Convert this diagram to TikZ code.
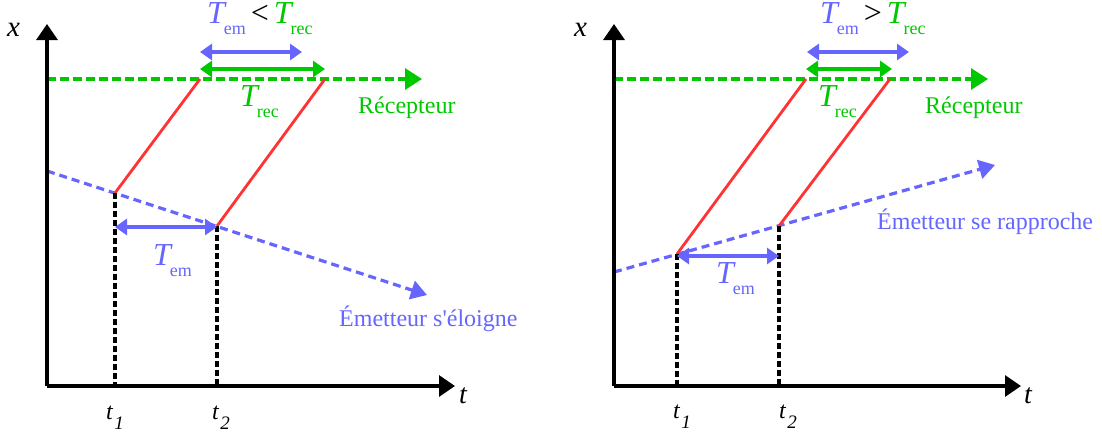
\documentclass[tikz,border=0pt]{standalone}
\usepackage{fontspec}
\setmainfont{Liberation Serif}[Ligatures=TeXOff]
\usepackage{tikz}
\usetikzlibrary{arrows.meta}
\usepackage{xcolor}
\definecolor{emblue}{RGB}{102,102,255}
\definecolor{recgreen}{RGB}{0,200,0}
\definecolor{sigred}{RGB}{255,51,51}
\newcommand{\per}[1]{\textit{T}\kern-3pt\raisebox{-11pt}{\fontsize{18}{18}\selectfont #1}}
\newcommand{\inst}[1]{\textit{t}\kern1pt\raisebox{-10pt}{\fontsize{19}{19}\selectfont\textit{#1}}}

\begin{document}
\begin{tikzpicture}[x=1pt,y=-1pt,
  axis/.style={line width=3.2pt,-{Triangle[length=16pt,width=21pt]}},
  recline/.style={recgreen,line width=3.2pt,dash pattern=on 9pt off 4pt,-{Triangle[length=17pt,width=21pt]}},
  emline/.style={emblue,line width=3.2pt,dash pattern=on 8pt off 5pt,-{Triangle[length=16pt,width=19pt]}},
  ray/.style={sigred,line width=2.8pt},
  drop/.style={line width=3.2pt,dash pattern=on 6pt off 3pt},
  span/.style={line width=3.2pt,{Triangle[length=12pt,width=16pt]}-{Triangle[length=12pt,width=16pt]}},
  lbl/.style={inner sep=0pt,anchor=base west,font=\fontsize{24}{24}\selectfont},
  big/.style={inner sep=0pt,anchor=base west,font=\fontsize{32}{32}\selectfont}]
\useasboundingbox (0,0) rectangle (1102,434);
% left diagram: emitter moving away
\coordinate (o1) at (47,386);
\coordinate (xa1) at (47,24);
\coordinate (ta1) at (455,386);
\coordinate (r1a) at (47,79);
\coordinate (r1b) at (422,79);
\coordinate (e1a) at (47,171);
\coordinate (e1b) at (427,295);
\coordinate (s11) at (115,193);
\coordinate (s12) at (217,226);
\coordinate (p11) at (200,79);
\coordinate (p12) at (325,79);
\coordinate (t11) at (115,386);
\coordinate (t12) at (217,386);
\coordinate (a11) at (115,227);
\coordinate (a12) at (217,227);
\coordinate (g11) at (200,69);
\coordinate (g12) at (325,69);
\coordinate (b11) at (200,52);
\coordinate (b12) at (302,52);
\draw[recline] (r1a) -- (r1b);
\draw[emline] (e1a) -- (e1b);
\draw[ray] (s11) -- (p11);
\draw[ray] (s12) -- (p12);
\draw[drop] (s11) -- (t11);
\draw[drop] (s12) -- (t12);
\draw[span,emblue] (a11) -- (a12);
\draw[span,recgreen] (g11) -- (g12);
\draw[span,emblue] (b11) -- (b12);
\draw[axis] (o1) -- (xa1);
\draw[axis] (o1) -- (ta1);
\node[lbl,font=\fontsize{29}{29}\selectfont] (x1) at (7,36) {\textit{x}};
\node[lbl,font=\fontsize{28}{28}\selectfont] (t1) at (459,403) {\textit{t}};
\node[lbl] (l11) at (106,419) {\inst{1}};
\node[lbl] (l12) at (212,419) {\inst{2}};
\node[big,text=emblue] (tem1) at (153,265) {\per{em}};
\node[big,text=recgreen] (trec1) at (240,106) {\per{rec}};
\node[big] (cmp1) at (207,23) {\textcolor{emblue}{\per{em}}\hspace{5pt}<\hspace{5pt}\textcolor{recgreen}{\per{rec}}};
\node[lbl,text=recgreen] (rec1) at (358,113) {Récepteur};
\node[lbl,text=emblue] (em1) at (339,326) {Émetteur s'éloigne};
% right diagram: emitter coming closer
\coordinate (o2) at (614,386);
\coordinate (xa2) at (614,24);
\coordinate (ta2) at (1021,386);
\coordinate (r2a) at (614,79);
\coordinate (r2b) at (988,79);
\coordinate (e2a) at (614,272);
\coordinate (e2b) at (995,165);
\coordinate (s21) at (677,254);
\coordinate (s22) at (779,226);
\coordinate (p21) at (806,79);
\coordinate (p22) at (890,79);
\coordinate (t21) at (677,386);
\coordinate (t22) at (779,386);
\coordinate (a21) at (677,256);
\coordinate (a22) at (779,256);
\coordinate (g21) at (806,69);
\coordinate (g22) at (892,69);
\coordinate (b21) at (807,52);
\coordinate (b22) at (909,52);
\draw[recline] (r2a) -- (r2b);
\draw[emline] (e2a) -- (e2b);
\draw[ray] (s21) -- (p21);
\draw[ray] (s22) -- (p22);
\draw[drop] (s21) -- (t21);
\draw[drop] (s22) -- (t22);
\draw[span,emblue] (a21) -- (a22);
\draw[span,recgreen] (g21) -- (g22);
\draw[span,emblue] (b21) -- (b22);
\draw[axis] (o2) -- (xa2);
\draw[axis] (o2) -- (ta2);
\node[lbl,font=\fontsize{29}{29}\selectfont] (x2) at (574,36) {\textit{x}};
\node[lbl,font=\fontsize{28}{28}\selectfont] (t2) at (1024,403) {\textit{t}};
\node[lbl] (l21) at (673,418) {\inst{1}};
\node[lbl] (l22) at (779,418) {\inst{2}};
\node[big,text=emblue] (tem2) at (716,283) {\per{em}};
\node[big,text=recgreen] (trec2) at (818,106) {\per{rec}};
\node[big] (cmp2) at (820,23) {\textcolor{emblue}{\per{em}}\hspace{5pt}>\hspace{5pt}\textcolor{recgreen}{\per{rec}}};
\node[lbl,text=recgreen] (rec2) at (925,113) {Récepteur};
\node[lbl,text=emblue] (em2) at (877,229) {Émetteur se rapproche};
\end{tikzpicture}
\end{document}
